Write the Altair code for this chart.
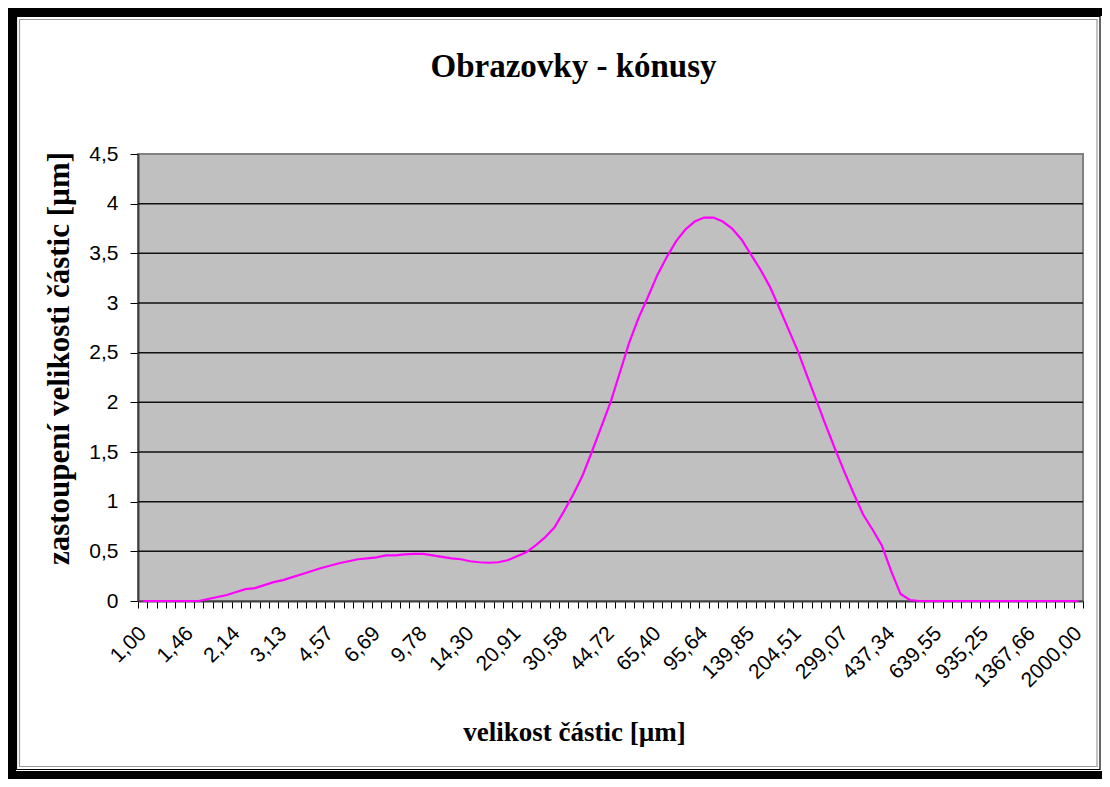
import json
import altair as alt
import pandas as pd

# category labels shown on the x axis (every 5th category)
x_labels = ["1,00", "1,46", "2,14", "3,13", "4,57", "6,69", "9,78", "14,30", "20,91",
            "30,58", "44,72", "65,40", "95,64", "139,85", "204,51", "299,07", "437,34",
            "639,55", "935,25", "1367,66", "2000,00"]

# zastoupení values for the 101 size classes
values = [0, 0, 0, 0, 0, 0, 0, 0.02, 0.04, 0.06,
          0.09, 0.12, 0.13, 0.16, 0.19, 0.21, 0.24, 0.27, 0.30, 0.33,
          0.355, 0.38, 0.40, 0.42, 0.43, 0.44, 0.46, 0.46, 0.47, 0.475,
          0.475, 0.46, 0.445, 0.43, 0.42, 0.40, 0.39, 0.385, 0.39, 0.41,
          0.45, 0.49, 0.56, 0.64, 0.74, 0.90, 1.07, 1.26, 1.50, 1.75,
          2.00, 2.30, 2.60, 2.85, 3.06, 3.28, 3.46, 3.62, 3.74, 3.82,
          3.86, 3.86, 3.82, 3.75, 3.64, 3.49, 3.34, 3.17, 2.96, 2.74,
          2.52, 2.27, 2.02, 1.77, 1.53, 1.30, 1.08, 0.87, 0.72, 0.56,
          0.30, 0.07, 0.01, 0, 0, 0, 0, 0, 0, 0,
          0, 0, 0, 0, 0, 0, 0, 0, 0, 0, 0]

y_ticks = [0, 0.5, 1, 1.5, 2, 2.5, 3, 3.5, 4, 4.5]
grid_values = [0.5, 1, 1.5, 2, 2.5, 3, 3.5, 4]

n = len(values)
df = pd.DataFrame({"i": list(range(n)), "v": values})
grid_df = pd.DataFrame({"g": grid_values})

W, H = 945, 447
PAD = {"left": 130, "top": 146, "right": 19, "bottom": 178}
cat_w = W / n

label_expr = (
    f"(round(datum.value + 0.5) % 5 == 0) ? "
    f"{json.dumps(x_labels)}[round((datum.value + 0.5) / 5)] : ''"
)

x_enc = alt.X(
    "i:Q",
    scale=alt.Scale(domain=[-0.5, n - 0.5], nice=False, zero=False),
    axis=alt.Axis(
        values=[k - 0.5 for k in range(n + 1)],
        labelExpr=label_expr,
        labelOverlap=False,
        labelFlush=False,
        labelBound=False,
        labelAngle=-45,
        labelAlign="right",
        labelBaseline="middle",
        labelOffset=cat_w / 2,
        labelPadding=22,
        labelFont="Liberation Sans",
        labelFontSize=21,
        labelColor="black",
        tickColor="black",
        tickSize=7,
        domainColor="#404040",
        domainWidth=2,
        grid=False,
        title="velikost částic [µm]",
        titleFont="Liberation Serif",
        titleFontWeight="bold",
        titleFontSize=27,
        titleColor="black",
        titleX=436,
        titleY=139,
        titleAlign="center",
        titleBaseline="alphabetic",
    ),
)

y_enc = alt.Y(
    "v:Q",
    scale=alt.Scale(domain=[0, 4.5], nice=False),
    axis=alt.Axis(
        values=y_ticks,
        labelExpr="replace(format(datum.value, '~g'), '.', ',')",
        labelFont="Liberation Sans",
        labelFontSize=21,
        labelColor="black",
        labelPadding=12,
        tickColor="black",
        tickSize=8,
        domainColor="#404040",
        domainWidth=2,
        grid=False,
        title="zastoupení velikosti částic [µm]",
        titleFont="Liberation Serif",
        titleFontWeight="bold",
        titleFontSize=31,
        titleColor="black",
        titleAngle=-90,
        titleX=-70,
        titleY=204,
        titleAlign="center",
        titleBaseline="alphabetic",
    ),
)

grid = alt.Chart(grid_df).mark_rule(color="#111111", strokeWidth=1.5).encode(
    y=alt.Y("g:Q", scale=alt.Scale(domain=[0, 4.5], nice=False))
)

line = alt.Chart(df).mark_line(color="#FF00FF", strokeWidth=2.2).encode(x=x_enc, y=y_enc)

one = pd.DataFrame({"a": [0]})
frame_outer = alt.Chart(one).mark_rect(filled=False, stroke="black", strokeWidth=8).encode(
    x=alt.value(-126), x2=alt.value(W + 40), y=alt.value(-142), y2=alt.value(H + PAD["bottom"] - 4)
)
frame_inner = alt.Chart(one).mark_rect(filled=False, stroke="black", strokeWidth=1.2).encode(
    x=alt.value(-121.5), x2=alt.value(W + 17), y=alt.value(-137.5), y2=alt.value(H + PAD["bottom"] - 9.5)
)
frame_gray = alt.Chart(one).mark_rect(filled=False, stroke="#9a9a9a", strokeWidth=1.2).encode(
    x=alt.value(-118.5), x2=alt.value(W + 14), y=alt.value(-134.5), y2=alt.value(H + PAD["bottom"] - 12.5)
)

chart = alt.layer(grid, line, frame_outer, frame_inner, frame_gray).properties(
    width=W,
    height=H,
    autosize=alt.AutoSizeParams(type="none"),
    padding=PAD,
    background="white",
    title=alt.TitleParams(
        "Obrazovky - kónusy",
        font="Liberation Serif",
        fontWeight="bold",
        fontSize=33,
        color="black",
        anchor="middle",
        frame="group",
        baseline="alphabetic",
        dx=-37,
        dy=102,
        offset=0,
    ),
).configure_view(
    fill="#C0C0C0", stroke="#808080", strokeWidth=2
)

chart.save("out.html", embed_options={"renderer": "svg", "actions": False})
